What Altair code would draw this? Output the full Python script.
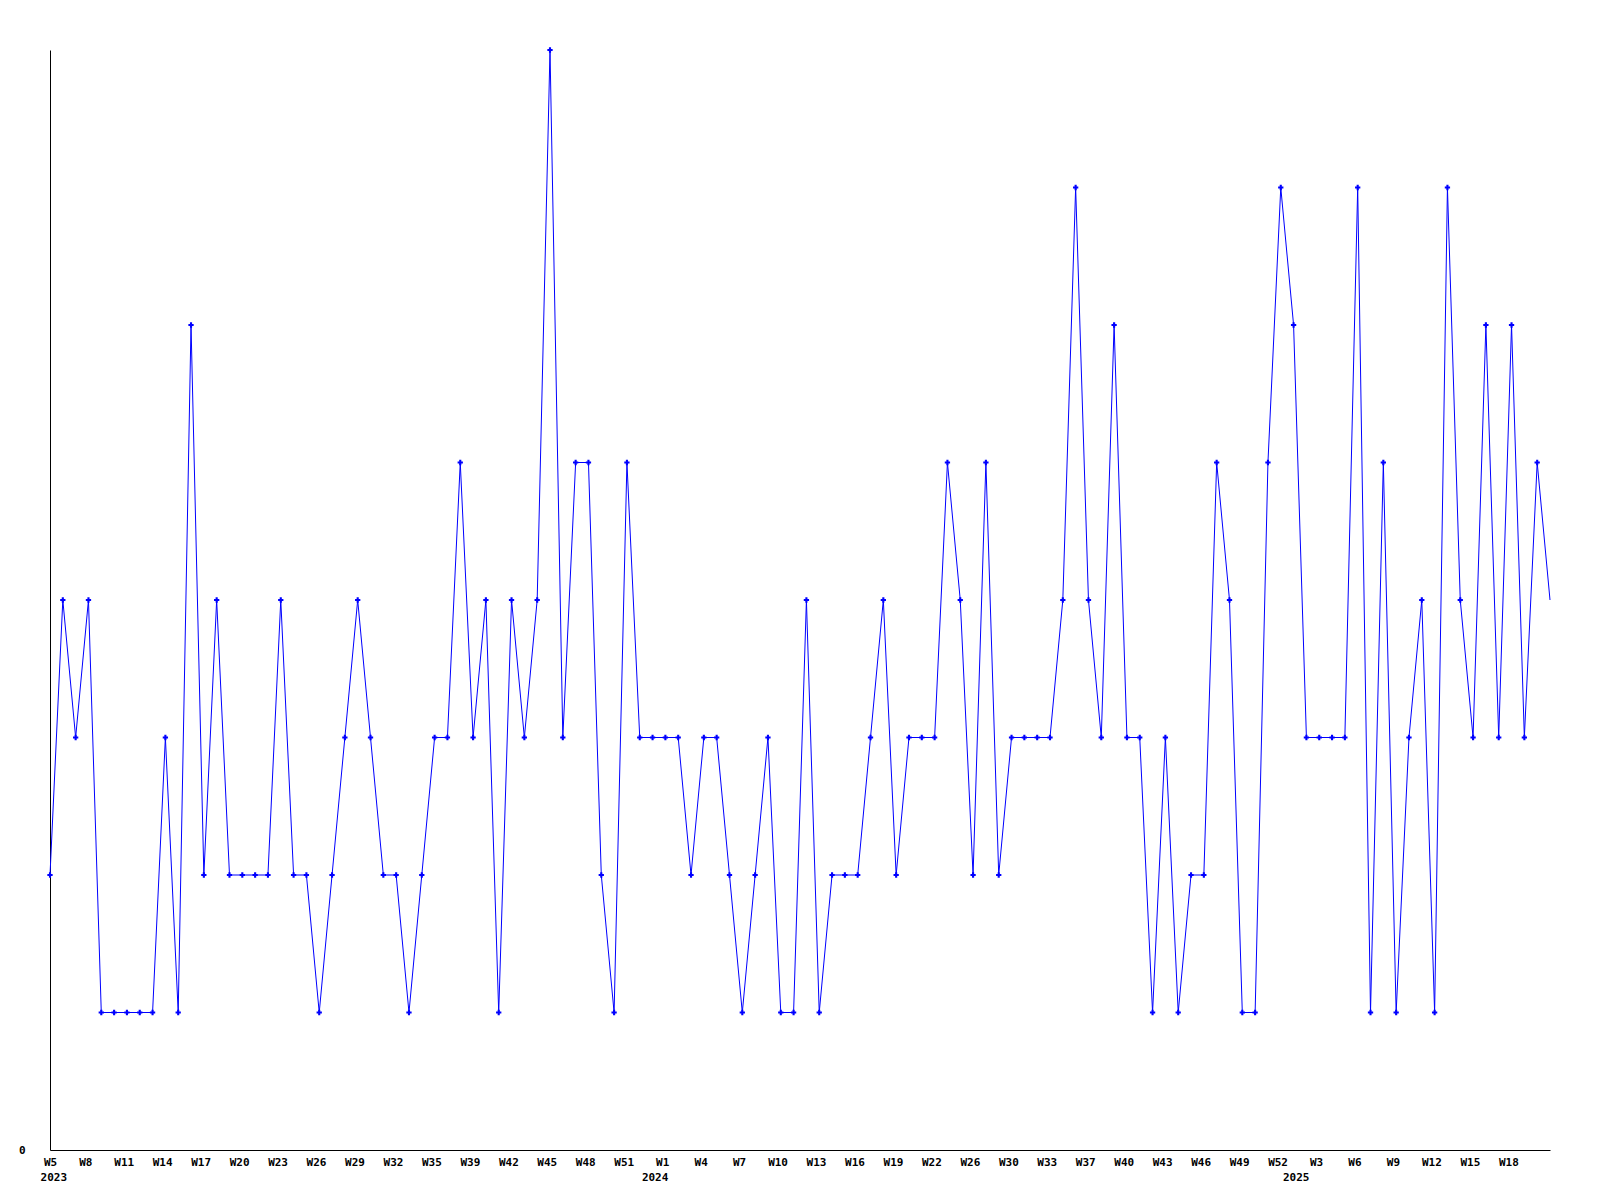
import json
import altair as alt
import pandas as pd

# Weekly values, starting at W5 2023 (one point per week)
values = [2, 4, 3, 4, 1, 1, 1, 1, 1, 3,
          1, 6, 2, 4, 2, 2, 2, 2, 4, 2,
          2, 1, 2, 3, 4, 3, 2, 2, 1, 2,
          3, 3, 5, 3, 4, 1, 4, 3, 4, 8,
          3, 5, 5, 2, 1, 5, 3, 3, 3, 3,
          2, 3, 3, 2, 1, 2, 3, 1, 1, 4,
          1, 2, 2, 2, 3, 4, 2, 3, 3, 3,
          5, 4, 2, 5, 2, 3, 3, 3, 3, 4,
          7, 4, 3, 6, 3, 3, 1, 3, 1, 2,
          2, 5, 4, 1, 1, 5, 7, 6, 3, 3,
          3, 3, 7, 1, 5, 1, 3, 4, 1, 7,
          4, 3, 6, 3, 6, 3, 5, 4]

# x-axis week labels (one every third point)
tick_labels = ["W5", "W8", "W11", "W14", "W17", "W20", "W23", "W26", "W29", "W32",
               "W35", "W39", "W42", "W45", "W48", "W51",
               "W1", "W4", "W7", "W10", "W13", "W16", "W19", "W22", "W26", "W30",
               "W33", "W37", "W40", "W43", "W46", "W49", "W52",
               "W3", "W6", "W9", "W12", "W15", "W18"]
tick_step = 3
tick_offset = -0.25  # labels sit slightly left of their week

# year labels and their positions (in week-index units)
year_labels = ["2023", "2024", "2025"]
year_positions = [0.3, 47.2, 97.2]

n = len(values)
df = pd.DataFrame({"idx": list(range(n)), "value": values})
df["marker"] = [i < n - 1 for i in range(n)]
years_df = pd.DataFrame({"pos": year_positions, "year": year_labels})

tick_values = [max(0.0, i * tick_step + tick_offset) for i in range(len(tick_labels))]
label_expr = json.dumps(tick_labels) + "[round(datum.value / %d)]" % tick_step

FONT = "DejaVu Sans Mono"

x_scale = alt.Scale(domain=[0, n - 1], nice=False, zero=False)
y_scale = alt.Scale(domain=[0, 8], nice=False)

x_axis = alt.Axis(values=tick_values, labelExpr=label_expr, ticks=False, grid=False,
                  domainColor="black", domainWidth=1, labelFont=FONT, labelFontSize=11,
                  labelFontWeight="bold", labelColor="black", labelPadding=6,
                  labelOverlap=False, labelFlush=False, labelAlign="center",
                  labelBound=False)
y_axis = alt.Axis(values=[0], labelExpr="'0'", ticks=False, grid=False,
                  domainColor="black", domainWidth=1,
                  labelFont=FONT, labelFontSize=11, labelFontWeight="bold",
                  labelColor="black", labelPadding=25, labelBaseline="middle",
                  labelOverlap=False)


def xe(field):
    return alt.X(field, scale=x_scale, title=None, axis=x_axis)


def ye(field):
    return alt.Y(field, scale=y_scale, title=None, axis=y_axis)


line = alt.Chart(df).mark_line(color="#0000ff", strokeWidth=1, interpolate="linear").encode(
    x=xe("idx:Q"), y=ye("value:Q"))

points = alt.Chart(df).transform_filter("datum.marker").mark_point(
    shape="cross", filled=True, size=28, color="#0000ff", opacity=1).encode(
    x=xe("idx:Q"), y=ye("value:Q"))

years = alt.Chart(years_df).mark_text(
    font=FONT, fontSize=11, fontWeight="bold", color="black", align="center",
    baseline="alphabetic").encode(
    x=xe("pos:Q"), y=alt.value(1131), text="year:N")

chart = alt.layer(line, points, years).properties(
    width=1500, height=1100,
    autosize=alt.AutoSizeParams(type="none"),
    padding={"left": 42, "top": 42, "right": 42, "bottom": 42},
    background="white",
).configure_view(stroke=None).configure_axis(labelOverlap=False)

chart.save("out.html", embed_options={"renderer": "svg", "actions": False})
